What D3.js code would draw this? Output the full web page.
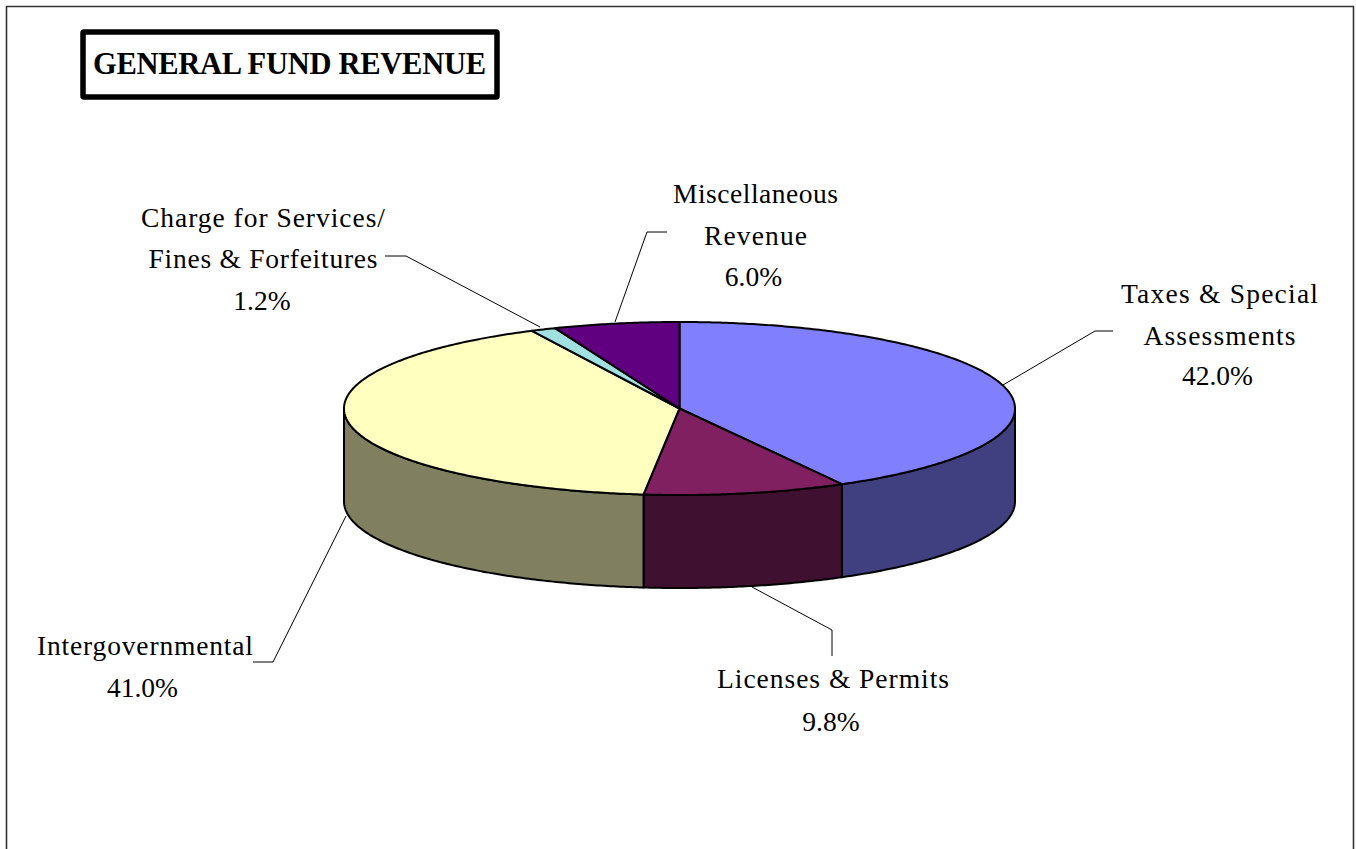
<!DOCTYPE html>
<html><head><meta charset="utf-8">
<script src="https://cdn.jsdelivr.net/npm/d3@7"></script>
<style>html,body{margin:0;padding:0;background:#fff}svg{display:block}text{font-family:"Liberation Serif",serif;fill:#000}</style>
</head><body><svg id="c" width="1356" height="849"></svg>
<script>
const categories=["Taxes & Special Assessments","Licenses & Permits","Intergovernmental","Charge for Services/ Fines & Forfeitures","Miscellaneous Revenue"];
const values=[41.96,9.75,41.04,1.2,6.05];
const valueLabels=["42.0%","9.8%","41.0%","1.2%","6.0%"];
const labelLines=[["Taxes & Special","Assessments"],["Licenses & Permits"],["Intergovernmental"],["Charge for Services/","Fines & Forfeitures"],["Miscellaneous","Revenue"]];
const topColors=["#8080ff","#802060","#ffffc0","#a0e0e0","#600080"];
const sideColors=["#404080","#401030","#808060","#507070","#300040"];
const title="GENERAL FUND REVENUE";

const W=1356,H=849,depth=93;
const sx=d3.scaleLinear().domain([-1,1]).range([344,1015]);
const sy=d3.scaleLinear().domain([-1,1]).range([322,495]);
const labelLayout=[
 {x:1219.5,pctX:1217.5,ys:[303,345,385],widths:[197,152],lead:[[1003,385],[1095,331],[1113,331]]},
 {x:833,pctX:831,ys:[688,731],widths:[232],lead:[[752,587],[832,630],[832,656]]},
 {x:145,pctX:142.5,ys:[655,697],widths:[216],lead:[[346,516],[273,662],[253,662]]},
 {x:263,pctX:262,ys:[227,268,310],widths:[244,229],lead:[[540,327],[406,256],[385,256]]},
 {x:755.5,pctX:753.5,ys:[203,245,286],widths:[165,103],lead:[[615,322],[647,232],[667,232]]}
];
const svg=d3.select("#c");
svg.append("path").attr("d",`M6.5 ${H}V6.5H1353.5V${H}`).attr("fill","none").attr("stroke","#333").attr("stroke-width",1.6);

const pie=d3.pie().sort(null).value(d=>d)(values);
const px=a=>sx(Math.sin(a)), py=a=>sy(-Math.cos(a));
const samples=(a0,a1)=>{const n=Math.max(2,Math.ceil((a1-a0)/0.01));return d3.range(n+1).map(i=>a0+(a1-a0)*i/n);};
const line=d3.line();
const g=svg.append("g").attr("stroke","#000").attr("stroke-width",2).attr("stroke-linejoin","round");
// side walls (front half only)
pie.forEach((s,i)=>{
  const a0=Math.max(s.startAngle,Math.PI/2),a1=Math.min(s.endAngle,1.5*Math.PI);
  if(a1<=a0)return;
  const top=samples(a0,a1).map(a=>[px(a),py(a)]);
  const bot=top.map(p=>[p[0],p[1]+depth]).reverse();
  g.append("path").attr("d",line(top.concat(bot))+"Z").attr("fill",sideColors[i]);
});
// top faces
pie.forEach((s,i)=>{
  const rim=samples(s.startAngle,s.endAngle).map(a=>[px(a),py(a)]);
  g.append("path").attr("d",line([[sx(0),sy(0)]].concat(rim))+"Z").attr("fill",topColors[i]);
});
// leaders and labels
const lg=svg.append("g");
labelLayout.forEach((l,i)=>{
  lg.append("path").attr("d",line(l.lead)).attr("fill","none").attr("stroke","#000").attr("stroke-width",1);
  const lines=labelLines[i];
  lines.concat([valueLabels[i]]).forEach((t,j)=>{
    const el=lg.append("text").attr("x",j<lines.length?l.x:l.pctX).attr("y",l.ys[j]).attr("text-anchor","middle").attr("font-size",27.5).text(t);
    if(l.widths[j]) el.attr("textLength",l.widths[j]).attr("lengthAdjust","spacing");
  });
});
// title
svg.append("rect").attr("x",83).attr("y",32).attr("width",414).attr("height",65).attr("rx",1).attr("fill","#fff").attr("stroke","#000").attr("stroke-width",5.5);
svg.append("text").attr("x",289.5).attr("y",74).attr("text-anchor","middle").attr("font-size",30.5).attr("font-weight","bold").attr("textLength",393).attr("lengthAdjust","spacing").text(title);
</script></body></html>
